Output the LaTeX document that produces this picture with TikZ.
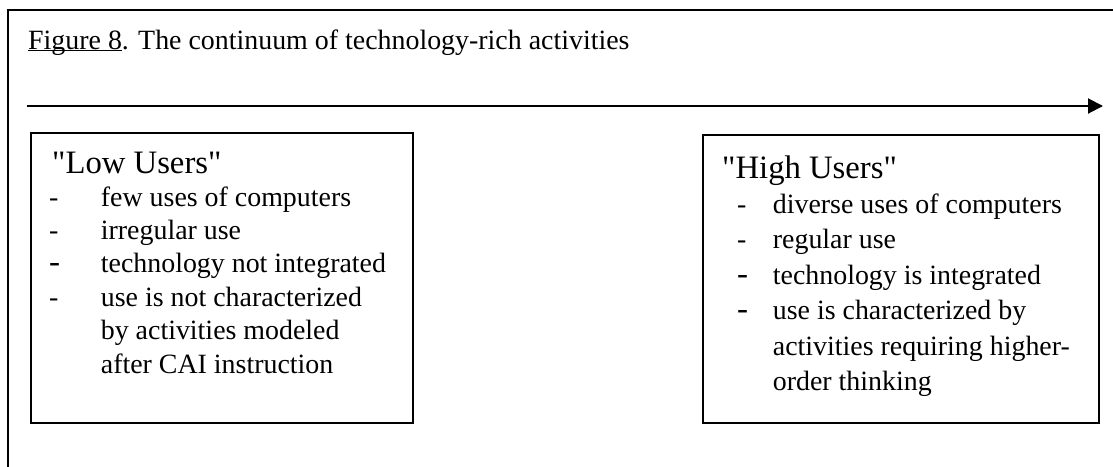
\documentclass[tikz,border=0pt]{standalone}
\usepackage{fontspec}
\setmainfont{Liberation Serif}[Ligatures=TeXOff]
\usepackage{tikz}
\usetikzlibrary{arrows.meta,positioning}
\tikzset{
    user-box/.style = {draw=black, line width=2pt, rectangle, inner sep=0pt, anchor=north west},
    user-head/.style = {anchor=base west, inner sep=0pt, font=\fontsize{32.7}{38}\selectfont},
    user-list/.style = {anchor=base west, inner sep=0pt, font=\fontsize{27.9}{33.4}\selectfont},
    caption-text/.style = {anchor=base west, inner sep=0pt, font=\fontsize{27.9}{33}\selectfont},
}
\newcommand{\bigdash}{{\fontsize{33}{33.4}\selectfont -}}

\begin{document}
\begin{tikzpicture}[x=1pt, y=-1pt]
\useasboundingbox (0,0) rectangle (1113,466);
\draw[line width=2pt] (1114,10) -- (8,10) -- (8,467);
\node[caption-text] (caption) at (28,49) {\underline{\smash{Figure 8}}. The continuum of technology-rich activities};
\coordinate (low-end) at (27,106);
\coordinate (high-end) at (1103,106);
\draw[line width=2pt, -{Triangle[length=15pt, width=15pt]}] (low-end) -- (high-end);

\node[user-box, minimum width=382pt, minimum height=289.5pt] (low) at (29.5,132) {};
\node[user-head] (low-head) at (52,173) {"Low Users"};
\node[user-list] (low-list) at (49,206) {\begin{tabular}[t]{@{}p{51.7pt}@{}l@{}}
    - & few uses of computers\\
    - & irregular use\\
    \bigdash & technology not integrated\\
    - & use is not characterized\\
      & by activities modeled\\
      & after CAI instruction
\end{tabular}};

\node[user-box, minimum width=396pt, minimum height=288pt] (high) at (702,134) {};
\node[user-head] (high-head) at (722,178) {"High Users"};
\node[user-list, font=\fontsize{27.9}{35.5}\selectfont] (high-list) at (737,213) {\begin{tabular}[t]{@{}p{35.7pt}@{}l@{}}
    - & diverse uses of computers\\
    - & regular use\\
    \bigdash & technology is integrated\\
    \bigdash & use is characterized by\\
      & activities requiring higher-\\
      & order thinking
\end{tabular}};
\end{tikzpicture}
\end{document}
